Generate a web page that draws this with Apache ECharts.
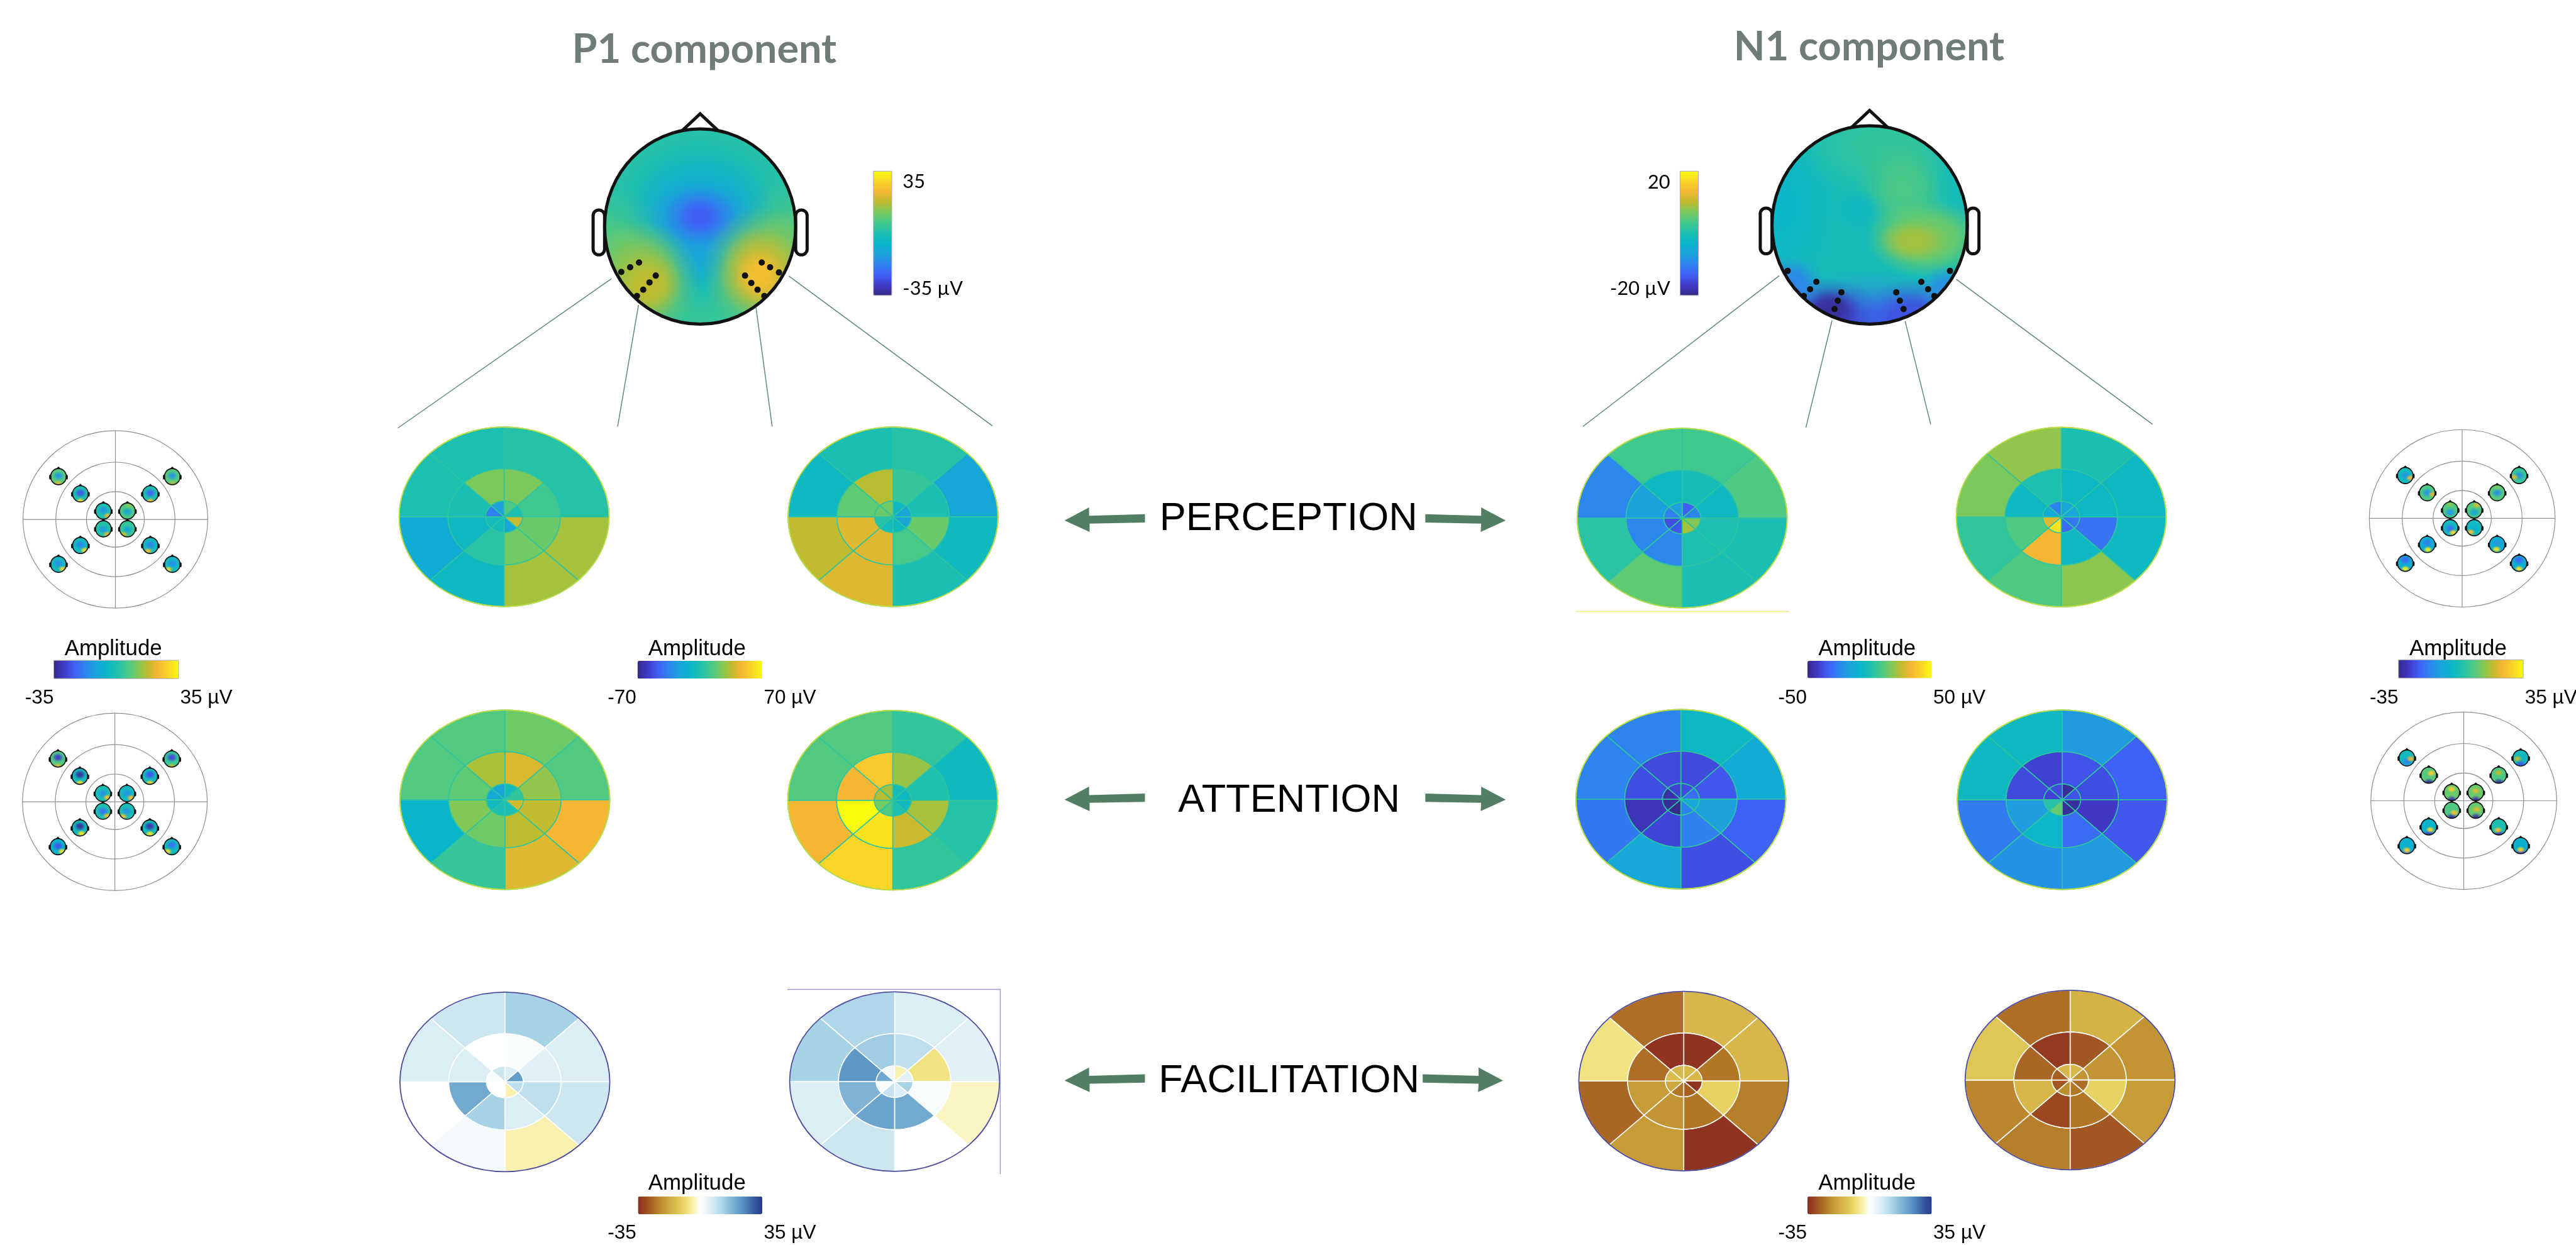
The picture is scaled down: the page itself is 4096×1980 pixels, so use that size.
<!DOCTYPE html>
<html>
<head>
<meta charset="utf-8">
<title>P1 and N1 components</title>
<script src="https://cdn.jsdelivr.net/npm/echarts@6/dist/echarts.min.js"></script>
<style>
html, body { margin: 0; background: #fff; }
#chart { width: 4096px; height: 1980px; }
</style>
</head>
<body>
<div id="chart"></div>
<script>
// everything is laid out in reference pixels, the hidden axes do the scaling
const REF_W = 4934, REF_H = 2385, S = 4096 / REF_W

const parula = ['#352a87', '#4039c8', '#4060f8', '#2e84ee', '#1ca2dc', '#08b4cc', '#1cbfb0',
  '#42c98e', '#78ca5e', '#bcbc2e', '#f6b634', '#fad42a', '#f9fb0e']
const brownBlue = ['#8a2e20', '#9c4a22', '#ad6c24', '#c08f30', '#d0aa40', '#dcc050', '#ecd868', '#f8f0a8', '#ffffff',
  '#e6f3f8', '#c8e4f0', '#a6d2e6', '#84b6d6', '#659fca', '#4c7fb8', '#35589f', '#263a8e']

// bullseye amplitudes in uV: rings outer, middle, inner; sectors clockwise from 12 o'clock
const p1PerceptionLeft = [[3, 3, 31, 31, -7, -17, 0, 0], [24, 11, 20, 22, 4, -7, -1, 24], [14, 0, 38, -20, -4, -4, -36, -24]]
const p1PerceptionRight = [[3, -20, -6, -1, 42, 36, -7, -1], [8, -1, 20, 13, 42, 42, 18, 34], [-7, -21, -21, -7, -4, 3, 20, 22]]
const p1AttentionLeft = [[21, 15, 47, 42, 8, -11, 15, 15], [41, 28, 36, 35, 21, 25, 18, 32], [-4, 7, 39, -1, -1, -6, -18, -21]]
const p1AttentionRight = [[7, -6, 3, 7, 59, 47, 15, 15], [29, 1, 31, 38, 63, 70, 47, 54], [-3, -7, -6, 0, 14, 22, 34, 31]]
const n1PerceptionLeft = [[8, 10, -1, -1, 13, 3, -24, 8], [-2, -5, 0, 0, -24, -24, -16, -5], [-33, -25, 18, 22, -35, -37, -26, -17]]
const n1PerceptionRight = [[-1, -5, -5, 19, 10, 5, 17, 20], [-6, -6, -29, -6, 34, 10, -6, 0], [-15, -15, -28, -30, 45, 30, -12, -25]]
const n1AttentionLeft = [[-6, -13, -33, -37, -14, -28, -25, -25], [-38, -35, -17, -26, -39, -44, -37, -38], [-38, -30, -14, -25, -50, -48, -46, -40]]
const n1AttentionRight = [[-19, -33, -35, -19, -21, -27, -5, -5], [-36, -37, -42, -30, -7, -18, -38, -40], [-48, -36, -47, -48, 14, 2, -40, -38]]
const p1FacilitationLeft = [[13, 6, 8, -4, 2, 0, 6, 8], [1, 5, 10, 6, 13, 20, 6, 0], [6, 22, 10, -4, 0, 0, 1, 8]]
const p1FacilitationRight = [[6, 5, -3, 0, 8, 6, 13, 12], [10, -7, 1, 20, 21, 18, 23, 14], [-4, 5, 13, 6, 9, 1, 20, 2]]
const n1FacilitationLeft = [[-15, -15, -24, -34, -20, -27, -7, -26], [-34, -25, -10, -25, -21, -20, -26, -34], [-15, -15, -34, -28, -25, -18, -14, -15]]
const n1FacilitationRight = [[-16, -21, -20, -29, -24, -23, -12, -26], [-29, -21, -10, -25, -31, -15, -27, -33], [-15, -21, -26, -25, -22, -29, -28, -15]]

// scalp map amplitudes, uV, first one is the background level
const p1TopoValues = [2, 9, 10, 4, -5, -5, -10, -11, -16, -21, -24, 15, 18, 15, 20, 25]
const n1TopoValues = [-1, -3, 2, 4, 6, 6, 9, -2, -13, -17, -19, -15, -10, -9]

// small scalp maps: [background, negative peak, positive peak] in uV
const smallPerceptionLeft = [[8, -14, 20], [0, -25, 30], [0, -14, 22], [7, -10, 13], [0, -23, 24], [8, -14, 15], [1, -13, 22], [4, -10, 20], [-3, -17, 30], [-3, -17, 25], [-3, -15, 29], [-3, -15, 29]]
const smallAttentionLeft = [[7, -29, 21], [-3, -33, 30], [-1, -14, 26], [-3, -14, 25], [-3, -25, 29], [4, -27, 18], [0, -20, 25], [-1, -14, 25], [-3, -33, 32], [-3, -32, 32], [-6, -25, 32], [-3, -20, 30]]
const smallPerceptionRight = [[-3, -14, 23], [7, -14, 21], [7, -14, 13], [7, -10, 20], [8, -15, 11], [4, -15, 20], [-3, -20, 30], [-3, -7, 25], [-7, -18, 33], [-7, -14, 32], [-8, -22, 32], [-8, -22, 32]]
const smallAttentionRight = [[-3, -17, 22], [8, -33, 27], [10, -31, 28], [10, -31, 21], [7, -33, 18], [-3, -25, 18], [7, -32, 25], [10, -32, 21], [-6, -29, 29], [0, -31, 25], [-7, -21, 29], [-7, -29, 29]]

// where those peaks sit on each small head: [negative v, positive u, positive v]
const spotsPerceptionLeft = [[-.1, 0, .85], [-.1, 0, .9], [-.1, .55, .6], [.1, .2, -.7], [-.1, 0, .9], [-.1, 0, .85], [.1, .5, .7], [.1, -.5, .7], [-.1, .55, .6], [-.1, -.3, .7], [-.1, .55, .6], [-.1, -.5, .65]]
const spotsAttentionLeft = [[-.2, 0, .9], [-.2, 0, .85], [0, .6, .5], [0, .55, .55], [-.2, 0, .85], [-.2, 0, .9], [0, .6, .6], [0, -.5, .65], [-.2, .2, .7], [-.2, 0, .75], [-.1, .55, .6], [-.2, -.55, .6]]
const spotsPerceptionRight = [[0, .65, .3], [0, .7, .2], [.3, 0, -.7], [.3, .3, -.6], [0, 0, -.7], [0, -.65, .2], [.1, .4, .6], [.1, -.45, .55], [-.2, .1, .65], [-.2, -.1, .6], [-.4, 0, .7], [-.4, 0, .7]]
const spotsAttentionRight = [[.5, .5, .1], [.95, .3, -.25], [.95, 0, -.4], [.95, 0, -.2], [.95, 0, -.3], [.85, -.4, .1], [.9, .3, .3], [.9, .1, -.1], [.95, .2, .35], [.95, -.1, .4], [.9, 0, .55], [.92, 0, .5]]

// layout
const DISC_RX = 201, DISC_RY = 172
const RING_EDGES = [1, 0.535, 0.175, 0]
const p1TopoShapes = [[0, 0, 1.2, 1.2], [-.8, .4, .75, .8], [.8, .35, .75, .85], [0, 1, .9, .4], [0, -.3, 1, .75], [0, .25, .5, .62], [0, -.15, .78, .55], [0, .15, .35, .5], [0, -.1, .55, .38], [0, -.1, .38, .3], [0, -.1, .22, .18], [-.6, .55, .6, .6], [-.55, .6, .36, .34], [.62, .45, .6, .65], [.65, .48, .45, .46], [.62, .5, .26, .28]]
const n1TopoShapes = [[0, 0, 1.2, 1.2], [-.9, -.2, .55, .9], [.1, -.8, .9, .55], [.35, -.35, .5, .55], [.55, .15, .6, .38], [.6, .12, .62, .4], [.45, .16, .38, .22], [-.1, -.15, .25, .22], [0, 1.15, 1.3, .7], [-.45, .95, .6, .42], [-.4, .85, .3, .22], [.45, .95, .55, .4], [-.8, .6, .35, .3], [.8, .65, .3, .25]]
const smallDx = [-109, -67, -23, 23, 67, 109, -23, 23, -67, 67, -109, 109]
const smallDy = [-82, -49, -16, -16, -49, -82, 18, 18, 50, 50, 86, 86]
const smallPlots = [
  { cx: 221, cy: 995, rx: 177, ry: 170, values: smallPerceptionLeft, spots: spotsPerceptionLeft },
  { cx: 220, cy: 1536, rx: 177, ry: 170, values: smallAttentionLeft, spots: spotsAttentionLeft },
  { cx: 4716, cy: 993, rx: 178, ry: 170, values: smallPerceptionRight, spots: spotsPerceptionRight },
  { cx: 4719, cy: 1534, rx: 178, ry: 170, values: smallAttentionRight, spots: spotsAttentionRight }
]
const plotRings = [1, 0.645, 0.313]

const heads = [
  { cx: 1341, cy: 434, rx: 183, ry: 187, lw: 6 },
  { cx: 3581, cy: 431, rx: 187, ry: 190, lw: 6 }
]
smallPlots.forEach(p => smallDx.forEach((dx, i) => {
  heads.push({ cx: p.cx + dx, cy: p.cy + smallDy[i], rx: 15, ry: 15.5, lw: 2, small: true })
}))

function fieldRows(headIndex, shapes, values) {
  return values.map((v, i) => [headIndex, shapes[i][0], shapes[i][1], shapes[i][2], shapes[i][3], v, i === 0 ? 1 : 0])
}
function smallRows(plotIndex) {
  const rows = []
  const p = smallPlots[plotIndex]
  p.values.forEach((vals, i) => {
    const h = 2 + plotIndex * 12 + i
    const s = p.spots[i]
    rows.push([h, 0, 0, 1.2, 1.2, vals[0], 1])
    rows.push([h, 0, s[0], .8, .62, vals[1], 0])
    rows.push([h, s[1], s[2], .62, .45, vals[2], 0])
  })
  return rows
}
function renderField(params, api) {
  const h = heads[api.value(0)]
  const c = api.coord([h.cx, h.cy])
  const p = api.coord([h.cx + api.value(1) * h.rx, h.cy + api.value(2) * h.ry])
  const color = api.visual('color')
  const solid = api.value(6) === 1
  const fill = solid ? color : new echarts.graphic.RadialGradient(0.5, 0.5, 0.5, [
    { offset: 0, color: color },
    { offset: 0.4, color: echarts.color.modifyAlpha(color, 0.8) },
    { offset: 0.75, color: echarts.color.modifyAlpha(color, 0.25) },
    { offset: 1, color: echarts.color.modifyAlpha(color, 0) }
  ])
  return {
    type: 'group',
    clipPath: { type: 'ellipse', shape: { cx: c[0], cy: c[1], rx: h.rx * S, ry: h.ry * S } },
    children: [{
      type: 'circle',
      x: p[0], y: p[1],
      scaleX: api.value(3) * h.rx * S / 100,
      scaleY: api.value(4) * h.ry * S / 100,
      shape: { cx: 0, cy: 0, r: 100 },
      style: { fill: fill }
    }]
  }
}
function renderOutline(params, api) {
  const h = heads[api.value(0)]
  const pt = (u, v) => api.coord([h.cx + u * h.rx, h.cy + v * h.ry])
  const lw = h.lw * S
  const ear = sign => {
    const a = pt(sign > 0 ? 1 : -1.12, -0.17)
    const b = pt(sign > 0 ? 1.12 : -1, 0.29)
    return {
      type: 'rect',
      shape: { x: a[0], y: a[1], width: b[0] - a[0], height: b[1] - a[1], r: h.small ? 1 : 9 },
      style: { fill: h.small ? '#111' : '#fff', stroke: '#111', lineWidth: lw }
    }
  }
  const c = pt(0, 0)
  return {
    type: 'group',
    children: [
      ear(-1), ear(1),
      {
        type: 'polyline',
        shape: { points: [pt(-0.19, -0.98), pt(0, -1.155), pt(0.19, -0.98)] },
        style: { fill: h.small ? '#111' : 'none', stroke: '#111', lineWidth: lw }
      },
      {
        type: 'ellipse',
        shape: { cx: c[0], cy: c[1], rx: h.rx * S, ry: h.ry * S },
        style: { fill: 'none', stroke: '#111', lineWidth: lw }
      }
    ]
  }
}

function discList(entries) {
  return entries.map(e => ({ cx: e[0], cy: e[1], values: e[2] }))
}
const p1Discs = discList([[965.5, 990, p1PerceptionLeft], [1710.5, 990, p1PerceptionRight], [967, 1532, p1AttentionLeft], [1710, 1533, p1AttentionRight]])
const n1Discs = discList([[3222, 992.5, n1PerceptionLeft], [3948, 990.5, n1PerceptionRight], [3219.5, 1531, n1AttentionLeft], [3950, 1532, n1AttentionRight]])
const p1FacDiscs = discList([[967, 2072.5, p1FacilitationLeft], [1713.5, 2072, p1FacilitationRight]])
const n1FacDiscs = discList([[3225, 2071, n1FacilitationLeft], [3965, 2069, n1FacilitationRight]])

function bullRows(discs) {
  const rows = []
  discs.forEach((d, di) => d.values.forEach((ring, ri) => ring.forEach((v, si) => rows.push([di, ri, si, v]))))
  return rows
}
function bullSeries(name, discs, lineColor) {
  return {
    name: name,
    type: 'custom',
    coordinateSystem: 'cartesian2d',
    silent: true,
    data: bullRows(discs),
    renderItem: (params, api) => {
      const d = discs[api.value(0)]
      const ri = api.value(1), si = api.value(2)
      const outer = RING_EDGES[ri], inner = RING_EDGES[ri + 1]
      const start = -Math.PI / 2 + si * Math.PI / 4
      const pts = []
      const steps = 14
      for (let k = 0; k <= steps; k++) {
        const a = start + k / steps * Math.PI / 4
        pts.push(api.coord([d.cx + Math.cos(a) * DISC_RX * outer, d.cy + Math.sin(a) * DISC_RY * outer]))
      }
      for (let k = steps; k >= 0; k--) {
        const a = start + k / steps * Math.PI / 4
        pts.push(api.coord([d.cx + Math.cos(a) * DISC_RX * inner, d.cy + Math.sin(a) * DISC_RY * inner]))
      }
      return {
        type: 'polygon',
        shape: { points: pts },
        style: { fill: api.visual('color'), stroke: lineColor, lineWidth: 1.6 }
      }
    }
  }
}
function rimSeries(discs, color) {
  return {
    type: 'custom',
    coordinateSystem: 'cartesian2d',
    silent: true,
    data: discs.map((d, i) => [i]),
    renderItem: (params, api) => {
      const d = discs[api.value(0)]
      const c = api.coord([d.cx, d.cy])
      return {
        type: 'ellipse',
        shape: { cx: c[0], cy: c[1], rx: DISC_RX * S, ry: DISC_RY * S },
        style: { fill: 'none', stroke: color, lineWidth: 1.8 }
      }
    }
  }
}
function fieldSeries(rows) {
  return { type: 'custom', coordinateSystem: 'cartesian2d', silent: true, data: rows, renderItem: renderField }
}
function lineSeries(segments, color, width) {
  return {
    type: 'lines',
    coordinateSystem: 'cartesian2d',
    silent: true,
    lineStyle: { color: color, width: width, opacity: 1, curveness: 0 },
    data: segments.map(s => ({ coords: [[s[0], s[1]], [s[2], s[3]]] }))
  }
}

const connectors = [
  [1171, 534, 762, 820], [1223, 584, 1183, 817], [1448, 589, 1479, 817], [1511, 529, 1901, 816],
  [3408, 528, 3032, 817], [3509, 614, 3459, 819], [3649, 615, 3698, 813], [3747, 535, 4123, 813]
]
const electrodes = [
  [1190, 521], [1207, 512], [1224, 503], [1256, 528], [1244, 541], [1232, 555], [1220, 567],
  [1427, 528], [1439, 542], [1451, 555], [1464, 567], [1459, 503], [1475, 512], [1492, 522],
  [3424, 519], [3479, 540], [3467, 554], [3455, 567], [3527, 560], [3520, 576], [3514, 592],
  [3632, 560], [3639, 576], [3646, 592], [3680, 540], [3693, 554], [3705, 567], [3735, 519]
]
const leftArrow = [[2039, 997], [2086, 972], [2086, 988], [2193, 985], [2193, 1001], [2087, 1003], [2087, 1019]]
const rightArrow = [[2884, 997], [2837, 972], [2837, 988], [2730, 985], [2730, 1001], [2837, 1003], [2836, 1019]]
const arrowRows = [[0, 0, 0], [0, 535, 0], [0, 1073, 0], [1, 0, 0], [1, 535, 0], [1, 1073, -5]]

const series = [
  fieldSeries(fieldRows(0, p1TopoShapes, p1TopoValues)),    // 0
  fieldSeries(fieldRows(1, n1TopoShapes, n1TopoValues)),    // 1
  fieldSeries(smallRows(0).concat(smallRows(1))),           // 2
  fieldSeries(smallRows(2).concat(smallRows(3))),           // 3
  bullSeries('P1', p1Discs, '#30c4a0'),                     // 4
  bullSeries('N1', n1Discs, '#30c4a0'),                     // 5
  bullSeries('P1 facilitation', p1FacDiscs, '#ffffff'),     // 6
  bullSeries('N1 facilitation', n1FacDiscs, '#ffffff'),     // 7
  rimSeries(p1Discs.concat(n1Discs), '#c4de3c'),
  rimSeries(p1FacDiscs.concat(n1FacDiscs), '#4b4ba0'),
  {
    // polar frames behind the small heads
    type: 'custom',
    coordinateSystem: 'cartesian2d',
    silent: true,
    z: 1,
    data: smallPlots.map((p, i) => [i]),
    renderItem: (params, api) => {
      const p = smallPlots[api.value(0)]
      const c = api.coord([p.cx, p.cy])
      const line = { stroke: '#8f8f8f', lineWidth: 1.2, fill: 'none' }
      return {
        type: 'group',
        children: plotRings.map(f => ({
          type: 'ellipse',
          shape: { cx: c[0], cy: c[1], rx: p.rx * f * S, ry: p.ry * f * S },
          style: line
        })).concat([
          { type: 'line', shape: { x1: c[0] - p.rx * S, y1: c[1], x2: c[0] + p.rx * S, y2: c[1] }, style: line },
          { type: 'line', shape: { x1: c[0], y1: c[1] - p.ry * S, x2: c[0], y2: c[1] + p.ry * S }, style: line }
        ])
      }
    }
  },
  {
    type: 'custom',
    coordinateSystem: 'cartesian2d',
    silent: true,
    data: heads.map((h, i) => [i]),
    renderItem: renderOutline
  },
  lineSeries(connectors, '#5f8a78', 1.5),
  lineSeries([[3018, 1171, 3428, 1171]], '#e6ec80', 1.4),
  lineSeries([[1508, 1895, 1916, 1895], [1916, 1895, 1916, 2249]], '#9a9ad4', 1.4),
  {
    type: 'custom',
    coordinateSystem: 'cartesian2d',
    silent: true,
    data: arrowRows,
    renderItem: (params, api) => {
      const shape = api.value(0) === 0 ? leftArrow : rightArrow
      return {
        type: 'polygon',
        shape: { points: shape.map(p => api.coord([p[0] + api.value(2), p[1] + api.value(1)])) },
        style: { fill: '#527f64' }
      }
    }
  },
  {
    type: 'scatter',
    coordinateSystem: 'cartesian2d',
    silent: true,
    symbolSize: 10,
    itemStyle: { color: '#111', opacity: 1 },
    data: electrodes
  }
]

function bar(seriesIndex, dimension, min, max, colors, x, y, w, h, vertical) {
  return {
    type: 'continuous',
    seriesIndex: seriesIndex,
    dimension: dimension,
    min: min, max: max,
    orient: vertical ? 'vertical' : 'horizontal',
    left: x * S, top: y * S,
    itemWidth: (vertical ? w : h) * S,
    itemHeight: (vertical ? h : w) * S,
    padding: 0,
    calculable: false,
    hoverLink: false,
    inRange: { color: colors }
  }
}

const visualMaps = [
  bar(0, 5, -35, 35, parula, 1673, 328, 35, 238, true),
  bar(1, 5, -20, 20, parula, 3218, 328, 35, 238, true),
  bar(2, 5, -35, 35, parula, 103, 1265, 239, 35),
  bar(3, 5, -35, 35, parula, 4594, 1264, 239, 35),
  bar(4, 3, -70, 70, parula, 1221, 1266, 239, 34),
  bar(5, 3, -50, 50, parula, 3462, 1266, 238, 33),
  bar(6, 3, -35, 35, brownBlue, 1222, 2292, 238, 34),
  bar(7, 3, -35, 35, brownBlue, 3462, 2292, 238, 34)
]

function label(text, x, y, size, opts) {
  const o = opts || {}
  return {
    type: 'text',
    x: x * S, y: y * S,
    z: 50,
    silent: true,
    style: {
      text: text,
      fontSize: size * S,
      fontFamily: o.family || '"Liberation Sans"',
      fontWeight: o.weight || 'normal',
      fill: o.color || '#000',
      align: o.align || 'left',
      verticalAlign: 'middle'
    }
  }
}
function frame(x, y, w, h) {
  return {
    type: 'rect',
    z: 50,
    silent: true,
    shape: { x: x * S, y: y * S, width: w * S, height: h * S },
    style: { fill: 'none', stroke: '#a8a8a8', lineWidth: 1 }
  }
}
const LATO = { family: 'Lato' }
const elements = [
  label('P1 component', 1349, 95, 78, { family: 'Lato', weight: 'bold', color: '#6f7d76', align: 'center' }),
  label('N1 component', 3580, 91, 78, { family: 'Lato', weight: 'bold', color: '#6f7d76', align: 'center' }),
  label('35', 1729, 348, 37, LATO),
  label('-35 µV', 1729, 553, 37, LATO),
  label('20', 3199, 350, 37, { family: 'Lato', align: 'right' }),
  label('-20 µV', 3199, 553, 37, { family: 'Lato', align: 'right' }),
  label('PERCEPTION', 2468, 995, 76, { align: 'center' }),
  label('ATTENTION', 2469, 1534, 76, { align: 'center' }),
  label('FACILITATION', 2469, 2072, 76, { align: 'center' }),
  label('Amplitude', 217, 1243, 42, { align: 'center' }),
  label('Amplitude', 4708, 1243, 42, { align: 'center' }),
  label('Amplitude', 1335, 1243, 42, { align: 'center' }),
  label('Amplitude', 3576, 1243, 42, { align: 'center' }),
  label('Amplitude', 1335, 2268, 42, { align: 'center' }),
  label('Amplitude', 3576, 2268, 42, { align: 'center' }),
  label('-35', 48, 1337, 38),
  label('35 µV', 345, 1337, 38),
  label('-35', 4539, 1337, 38),
  label('35 µV', 4836, 1337, 38),
  label('-70', 1164, 1337, 38),
  label('70 µV', 1463, 1337, 38),
  label('-50', 3406, 1337, 38),
  label('50 µV', 3703, 1337, 38),
  label('-35', 1164, 2363, 38),
  label('35 µV', 1463, 2363, 38),
  label('-35', 3406, 2363, 38),
  label('35 µV', 3703, 2363, 38),
  frame(1673, 328, 35, 238),
  frame(3218, 328, 35, 238),
  frame(103, 1265, 239, 35),
  frame(4594, 1264, 239, 35)
]

const chart = echarts.init(document.getElementById('chart'), null, { renderer: 'canvas' })
chart.setOption({
  animation: false,
  backgroundColor: '#fff',
  tooltip: { show: false },
  grid: { left: 0, right: 0, top: 0, bottom: 0 },
  xAxis: { type: 'value', min: 0, max: REF_W, show: false },
  yAxis: { type: 'value', min: 0, max: REF_H, inverse: true, show: false },
  visualMap: visualMaps,
  graphic: { elements: elements },
  series: series
})
</script>
</body>
</html>
